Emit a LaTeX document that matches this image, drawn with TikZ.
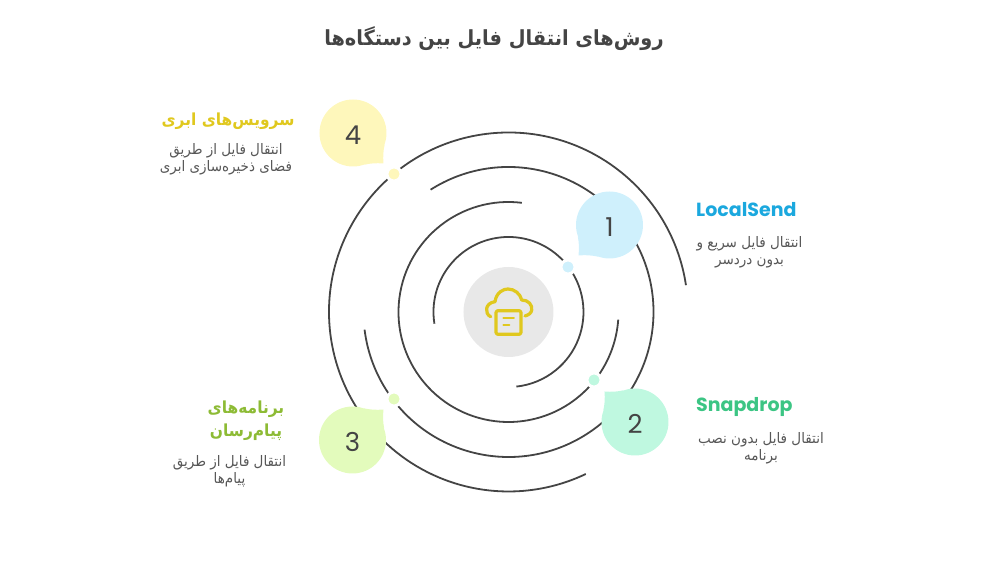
\documentclass[tikz,border=0pt]{standalone}
\usepackage{fontspec}
\usepackage{tikz}
\TeXXeTstate=1
\newfontfamily\arabicfont[Script=Arabic,FakeStretch=0.93]{DejaVu Sans}
\newfontfamily\numfont{Poppins}
\newcommand{\fatext}[1]{{\arabicfont\beginR #1\endR}}
\newcommand{\bubblenum}[1]{\raisebox{-2pt}[\height][\depth]{#1}}
\definecolor{oneblue}{HTML}{CFF0FC}
\definecolor{twogreen}{HTML}{BFF8E0}
\definecolor{threelime}{HTML}{E3FBBC}
\definecolor{fouryellow}{HTML}{FEF7BB}
\definecolor{onehead}{HTML}{1BA8DE}
\definecolor{twohead}{HTML}{3CC584}
\definecolor{threehead}{HTML}{8DBB35}
\definecolor{fourhead}{HTML}{E0C81E}
\definecolor{ringgray}{HTML}{444444}

\begin{document}
\begin{tikzpicture}[x=1pt,y=1pt,
	ring/.style={draw=ringgray,line width=1.8pt},
	bubble/.style={circle,minimum size=67pt,inner sep=0pt,text=ringgray,font=\numfont\fontsize{26}{30}\selectfont},
	spot/.style={circle,minimum size=14pt,inner sep=0pt,draw=white,line width=3pt},
	headtext/.style={font=\bfseries\fontsize{16.6}{23}\selectfont,align=center,inner sep=0pt},
	latinhead/.style={font=\numfont\bfseries\fontsize{19}{23}\selectfont,inner sep=0pt,anchor=west},
	bodytext/.style={font=\fontsize{14.5}{17}\selectfont,text=ringgray!90,align=center,inner sep=0pt},
	iconline/.style={draw=fourhead,line width=3.2pt,line cap=round,line join=round}]
		\useasboundingbox (-508.5,-265) rectangle (480.5,312);
		\node[font=\bfseries\fontsize{20.8}{25}\selectfont,text=ringgray,inner sep=0pt] (title) at (-14.5,273) {\fatext{روش^^^^200cهای انتقال فایل بین دستگاه^^^^200cها}};
		% rings
		\draw[ring] (189:75) arc[start angle=189,end angle=-84,radius=75];
		\draw[ring] (83:110) arc[start angle=83,end angle=356,radius=110];
		\draw[ring] (122.5:145) arc[start angle=122.5,end angle=-173,radius=145];
		\draw[ring] (8.6:179.5) arc[start angle=8.6,end angle=295.5,radius=179.5];
		% center
		\node[circle,fill=black!9,minimum size=90pt,inner sep=0pt] (hub) at (0,0) {};
		\begin{scope}
		\draw[iconline] (-17.8,-4.7) .. controls (-24,-2) and (-24,9) .. (-13.5,10.3)
			.. controls (-12,20) and (-5,23) .. (-0.5,23)
			.. controls (6,23) and (12,18) .. (13.2,12)
			.. controls (20,12) and (24,7) .. (23.2,2)
			.. controls (23,-1) and (20,-3) .. (16.5,-4);
		\draw[iconline,fill=black!9,rounded corners=2pt] (-12.5,1.3) rectangle (12.5,-22.3);
		\draw[iconline,line width=2pt] (-5.2,-6.3) -- (5.5,-6.3);
		\draw[iconline,line width=2pt] (-5.2,-12.7) -- (0.8,-12.7);
		\end{scope}
		% spots
		\node[spot,fill=oneblue] (S1) at (59.5,45) {};
		\node[spot,fill=twogreen] (S2) at (85.5,-68) {};
		\node[spot,fill=threelime] (S3) at (-114.5,-87) {};
		\node[spot,fill=fouryellow] (S4) at (-114.5,138) {};
		% one
		\coordinate (T1) at (70,56.5);
		\node[bubble,fill=oneblue] (B1) at (101,87) {\bubblenum{1}};
		\fill[oneblue] (B1.200) to[bend left=8] (T1) to[bend left=8] (B1.250) -- cycle;
		\node[latinhead,text=onehead] (H1) at (187.5,102) {LocalSend};
		\node[bodytext] (D1) at (241,60) {\fatext{انتقال فایل سریع و}\\\fatext{بدون دردسر}};
		% two
		\coordinate (T2) at (96,-79.5);
		\node[bubble,fill=twogreen] (B2) at (126.5,-110) {\bubblenum{2}};
		\fill[twogreen] (B2.110) to[bend left=8] (T2) to[bend left=8] (B2.160) -- cycle;
		\node[latinhead,text=twohead] (H2) at (187.5,-95) {Snapdrop};
		\node[bodytext] (D2) at (252.5,-136) {\fatext{انتقال فایل بدون نصب}\\\fatext{برنامه}};
		% three
		\coordinate (T3) at (-125,-97.5);
		\node[bubble,fill=threelime] (B3) at (-156,-128) {\bubblenum{3}};
		\fill[threelime] (B3.20) to[bend left=8] (T3) to[bend left=8] (B3.70) -- cycle;
		\node[headtext,text=threehead] (H3) at (-262.5,-109) {\fatext{برنامه^^^^200cهای}\\\fatext{پیام^^^^200cرسان}};
		\node[bodytext] (D3) at (-279,-159) {\fatext{انتقال فایل از طریق}\\\fatext{پیام^^^^200cها}};
		% four
		\coordinate (T4) at (-125,148.5);
		\node[bubble,fill=fouryellow] (B4) at (-155.5,179) {\bubblenum{4}};
		\fill[fouryellow] (B4.290) to[bend left=8] (T4) to[bend left=8] (B4.340) -- cycle;
		\node[headtext,text=fourhead] (H4) at (-280.5,191) {\fatext{سرویس^^^^200cهای ابری}};
		\node[bodytext] (D4) at (-282.5,152.5) {\fatext{انتقال فایل از طریق}\\\fatext{فضای ذخیره^^^^200cسازی ابری}};
\end{tikzpicture}
\end{document}
